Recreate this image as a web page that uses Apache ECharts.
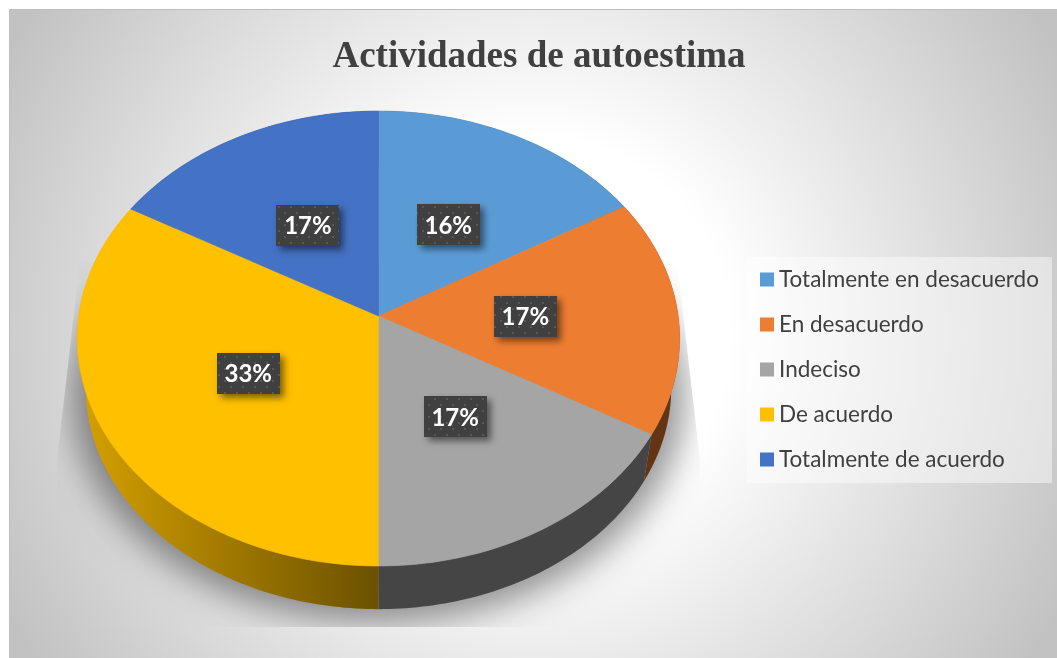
<!DOCTYPE html>
<html>
<head>
<meta charset="utf-8">
<style>html,body{margin:0;padding:0;background:#fff}#c{width:1057px;height:658px}</style>
<script src="https://cdn.jsdelivr.net/npm/echarts@6/dist/echarts.min.js"></script>
</head>
<body>
<div id="c"></div>
<script>
const chartTitle = 'Actividades de autoestima';
const categories = ['Totalmente en desacuerdo', 'En desacuerdo', 'Indeciso', 'De acuerdo', 'Totalmente de acuerdo'];
const values = [16.49, 16.84, 16.67, 33.3, 16.7];
const colors = ['#5b9bd5', '#ed7d31', '#a5a5a5', '#ffc000', '#4472c4'];

const total = values.reduce((a, b) => a + b, 0);

// Perspective projection of the unit disc onto the tilted pie face
const CX = 378.5, APEX_Y = 316, K = -0.0989, AY = 194, R = 299.7, LABEL_R = 0.49;
function project(angleDeg, rho) {
  const t = angleDeg * Math.PI / 180;
  const u = Math.sin(t) * rho, v = -Math.cos(t) * rho;
  const d = 1 + K * v;
  return [CX + R * u / d, (APEX_Y + AY * v) / d];
}
function lowerRim(p) { return [CX + 0.972 * (p[0] - CX), 0.972 * p[1] + 59]; }
function shade(hex, m) {
  const n = parseInt(hex.slice(1), 16);
  const f = s => Math.round(((n >> s) & 255) * m);
  return 'rgb(' + f(16) + ',' + f(8) + ',' + f(0) + ')';
}
function arc(a0, a1) {
  const pts = [], steps = Math.max(2, Math.ceil(a1 - a0));
  for (let i = 0; i <= steps; i++) pts.push(project(a0 + (a1 - a0) * i / steps, 1));
  return pts;
}

// dotted fill of the data-label boxes
const tile = document.createElement('canvas');
tile.width = tile.height = 12;
(function () {
  const g = tile.getContext('2d');
  g.fillStyle = '#404040'; g.fillRect(0, 0, 12, 12);
  g.fillStyle = '#585858'; g.fillRect(2, 2, 2, 2); g.fillRect(8, 8, 2, 2);
})();

function renderSlice(params, api) {
  const i = params.seriesIndex;
  const value = api.value(0);
  let before = 0;
  for (let k = 0; k < i; k++) before += values[k];
  const a0 = before / total * 360, a1 = (before + value) / total * 360;
  const rim = arc(a0, a1);
  const base = colors[i];
  const children = [];

  if (i === 0) {
    children.push({
      type: 'ellipse', z2: 0, silent: true,
      shape: { cx: CX - 3000, cy: 396, rx: 306, ry: 226 },
      style: { fill: '#000', shadowColor: 'rgba(0,0,0,0.42)', shadowBlur: 34, shadowOffsetX: 3000 },
      clipPath: { type: 'polygon', shape: { points: [[80, 262], [677, 262], [700, 460], [700, 627], [57, 627], [57, 460]] } }
    });
  }
  children.push({
    type: 'polygon', z2: 1, silent: true,
    shape: { points: rim.concat(rim.map(lowerRim).reverse()) },
    style: {
      fill: new echarts.graphic.LinearGradient(77, 0, CX, 0, [
        { offset: 0, color: shade(base, 0.84) },
        { offset: 1, color: shade(base, 0.42) }
      ], true)
    }
  });
  children.push({
    type: 'polygon', z2: 2, silent: true,
    shape: { points: [project(0, 0)].concat(rim) },
    style: { fill: base, stroke: base, lineWidth: 0.6 }
  });
  const c = project((a0 + a1) / 2, LABEL_R);
  const w = 63, h = 41, ly = c[1] + 1;
  children.push({
    type: 'rect', z2: 3, silent: true,
    shape: { x: Math.round(c[0] - w / 2), y: Math.round(ly - h / 2), width: w, height: h },
    style: { fill: { image: tile, repeat: 'repeat' }, shadowColor: 'rgba(0,0,0,0.5)', shadowBlur: 7, shadowOffsetX: 4, shadowOffsetY: 4 }
  });
  children.push({
    type: 'text', z2: 4, silent: true,
    style: {
      text: Math.round(value / total * 100) + '%', x: c[0], y: ly + 1,
      fill: '#fff', font: 'bold 24px Lato', align: 'center', verticalAlign: 'middle'
    }
  });
  return { type: 'group', children };
}

const chart = echarts.init(document.getElementById('c'), null, { renderer: 'canvas' });
chart.setOption({
  animation: false,
  backgroundColor: '#fff',
  title: {
    text: chartTitle, left: 534, top: 34, textAlign: 'center',
    textStyle: { fontFamily: 'Liberation Serif', fontWeight: 'bold', fontSize: 37, color: '#404040' }
  },
  legend: {
    orient: 'vertical', left: 760, top: 268, icon: 'rect',
    itemWidth: 14, itemHeight: 14, itemGap: 22, padding: 0,
    selectedMode: false, data: categories,
    textStyle: { fontFamily: 'Lato', fontSize: 22.5, color: '#404040' }
  },
  graphic: [
    {
      type: 'rect', z: -10, silent: true,
      shape: { x: 9.5, y: 9.5, width: 1060, height: 660 },
      style: {
        fill: new echarts.graphic.RadialGradient(533, 333, 595, [
          { offset: 0, color: '#ffffff' }, { offset: 0.33, color: '#ffffff' }, { offset: 1, color: '#c2c2c2' }
        ], true),
        stroke: '#bdbdbd', lineWidth: 1
      }
    },
    {
      type: 'rect', z: -9, silent: true,
      shape: { x: 747, y: 257, width: 305, height: 226 },
      style: { fill: 'rgba(255,255,255,0.45)' }
    }
  ],
  series: categories.map((name, i) => ({
    type: 'custom', name, coordinateSystem: 'none',
    renderItem: renderSlice, clip: false, silent: true,
    itemStyle: { color: colors[i] },
    data: [[values[i]]]
  }))
});
</script>
</body>
</html>
